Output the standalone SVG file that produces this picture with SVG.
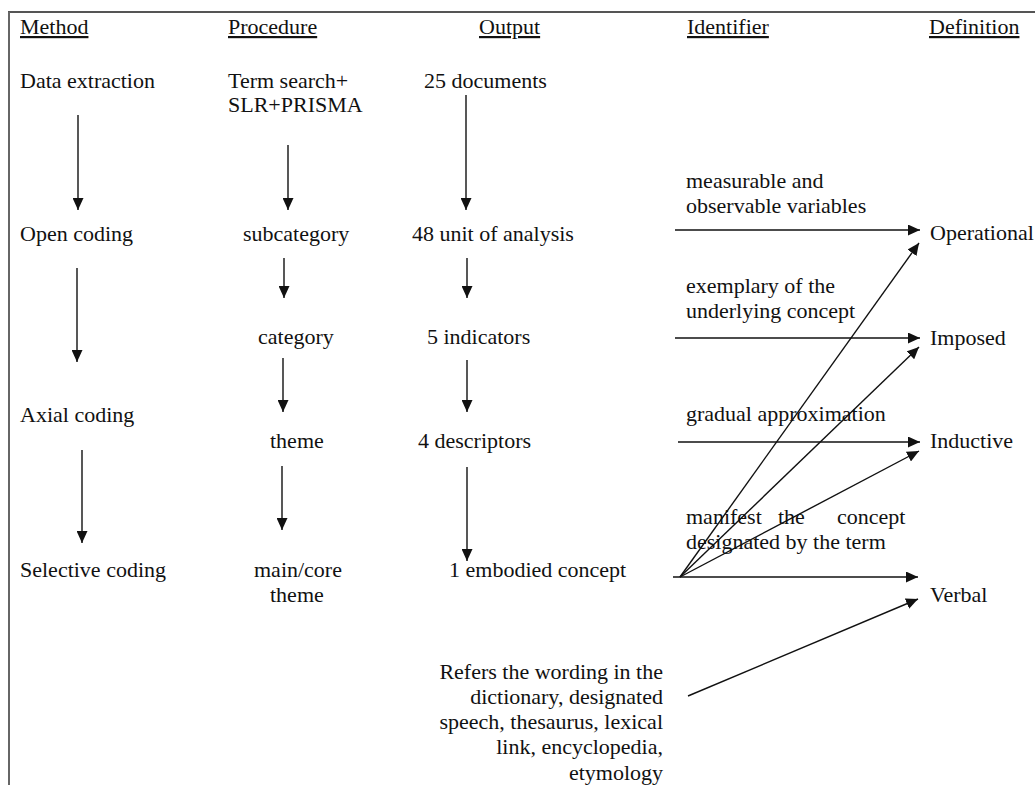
<svg xmlns="http://www.w3.org/2000/svg" width="1035" height="785" viewBox="0 0 1035 785">
<style>
text{font-family:"Liberation Serif","Times New Roman",serif;font-size:22px;fill:#111}
.h{text-decoration:underline}
.r{text-anchor:end}
.c line{stroke:#111;stroke-width:1.4}
.a{marker-end:url(#ah)}
</style>
<defs>
<marker id="ah" markerUnits="userSpaceOnUse" markerWidth="13" markerHeight="11" refX="12" refY="5.5" orient="auto" viewBox="0 0 13 11">
<path d="M0,0 L12,5.5 L0,11 z" fill="#111"/>
</marker>
</defs>
<rect width="1035" height="785" fill="#fff"/>
<g id="frame">
<line x1="8" y1="12" x2="1035" y2="12" stroke="#555" stroke-width="2"/>
<line x1="9" y1="12" x2="9" y2="785" stroke="#666" stroke-width="2"/>
</g>
<g id="headers">
<text class="h" x="20" y="34">Method</text>
<text class="h" x="228" y="34">Procedure</text>
<text class="h" x="479" y="34">Output</text>
<text class="h" x="687" y="34">Identifier</text>
<text class="h" x="929" y="34">Definition</text>
</g>
<g id="method">
<text x="20" y="88">Data extraction</text>
<text x="20" y="241">Open coding</text>
<text x="20" y="422">Axial coding</text>
<text x="20" y="577">Selective coding</text>
</g>
<g id="procedure">
<text x="228" y="88">Term search+</text>
<text x="228" y="112">SLR+PRISMA</text>
<text x="243" y="241">subcategory</text>
<text x="258" y="344">category</text>
<text x="270" y="448">theme</text>
<text x="254" y="577">main/core</text>
<text x="270" y="602">theme</text>
</g>
<g id="output">
<text x="424" y="88">25 documents</text>
<text x="412" y="241">48 unit of analysis</text>
<text x="427" y="344">5 indicators</text>
<text x="418" y="448">4 descriptors</text>
<text x="449" y="577">1 embodied concept</text>
</g>
<g id="identifier">
<text x="686" y="188">measurable and</text>
<text x="686" y="213">observable variables</text>
<text x="686" y="293">exemplary of the</text>
<text x="686" y="318">underlying concept</text>
<text x="686" y="421">gradual approximation</text>
<text y="524"><tspan x="686">manifest</tspan><tspan x="778">the</tspan><tspan x="837">concept</tspan></text>
<text x="686" y="549">designated by the term</text>
</g>
<g id="definition">
<text x="930" y="240">Operational</text>
<text x="930" y="345">Imposed</text>
<text x="930" y="448">Inductive</text>
<text x="930" y="602">Verbal</text>
</g>
<g id="verbal-note">
<text class="r" x="663" y="679">Refers the wording in the</text>
<text class="r" x="663" y="704">dictionary, designated</text>
<text class="r" x="663" y="729">speech, thesaurus, lexical</text>
<text class="r" x="663" y="754">link, encyclopedia,</text>
<text class="r" x="663" y="780">etymology</text>
</g>
<g id="connectors" class="c">
<line class="a" x1="78" y1="115" x2="78" y2="210"/>
<line class="a" x1="288" y1="145" x2="288" y2="210"/>
<line class="a" x1="466" y1="95" x2="466" y2="210"/>
<line class="a" x1="77" y1="268" x2="77" y2="362"/>
<line class="a" x1="284" y1="258" x2="284" y2="298"/>
<line class="a" x1="467" y1="258" x2="467" y2="298"/>
<line class="a" x1="283" y1="358" x2="283" y2="412"/>
<line class="a" x1="467" y1="360" x2="467" y2="412"/>
<line class="a" x1="82" y1="450" x2="82" y2="543"/>
<line class="a" x1="282" y1="466" x2="282" y2="530"/>
<line class="a" x1="467" y1="467" x2="467" y2="561"/>
<line class="a" x1="675" y1="230" x2="920" y2="230"/>
<line class="a" x1="675" y1="338" x2="920" y2="338"/>
<line class="a" x1="678" y1="442" x2="920" y2="442"/>
<line class="a" x1="673" y1="577" x2="918" y2="577"/>
<line class="a" x1="680" y1="577" x2="919" y2="243"/>
<line class="a" x1="680" y1="577" x2="919" y2="347"/>
<line class="a" x1="680" y1="577" x2="919" y2="451"/>
<line class="a" x1="688" y1="696" x2="918" y2="599"/>
</g>
</svg>
